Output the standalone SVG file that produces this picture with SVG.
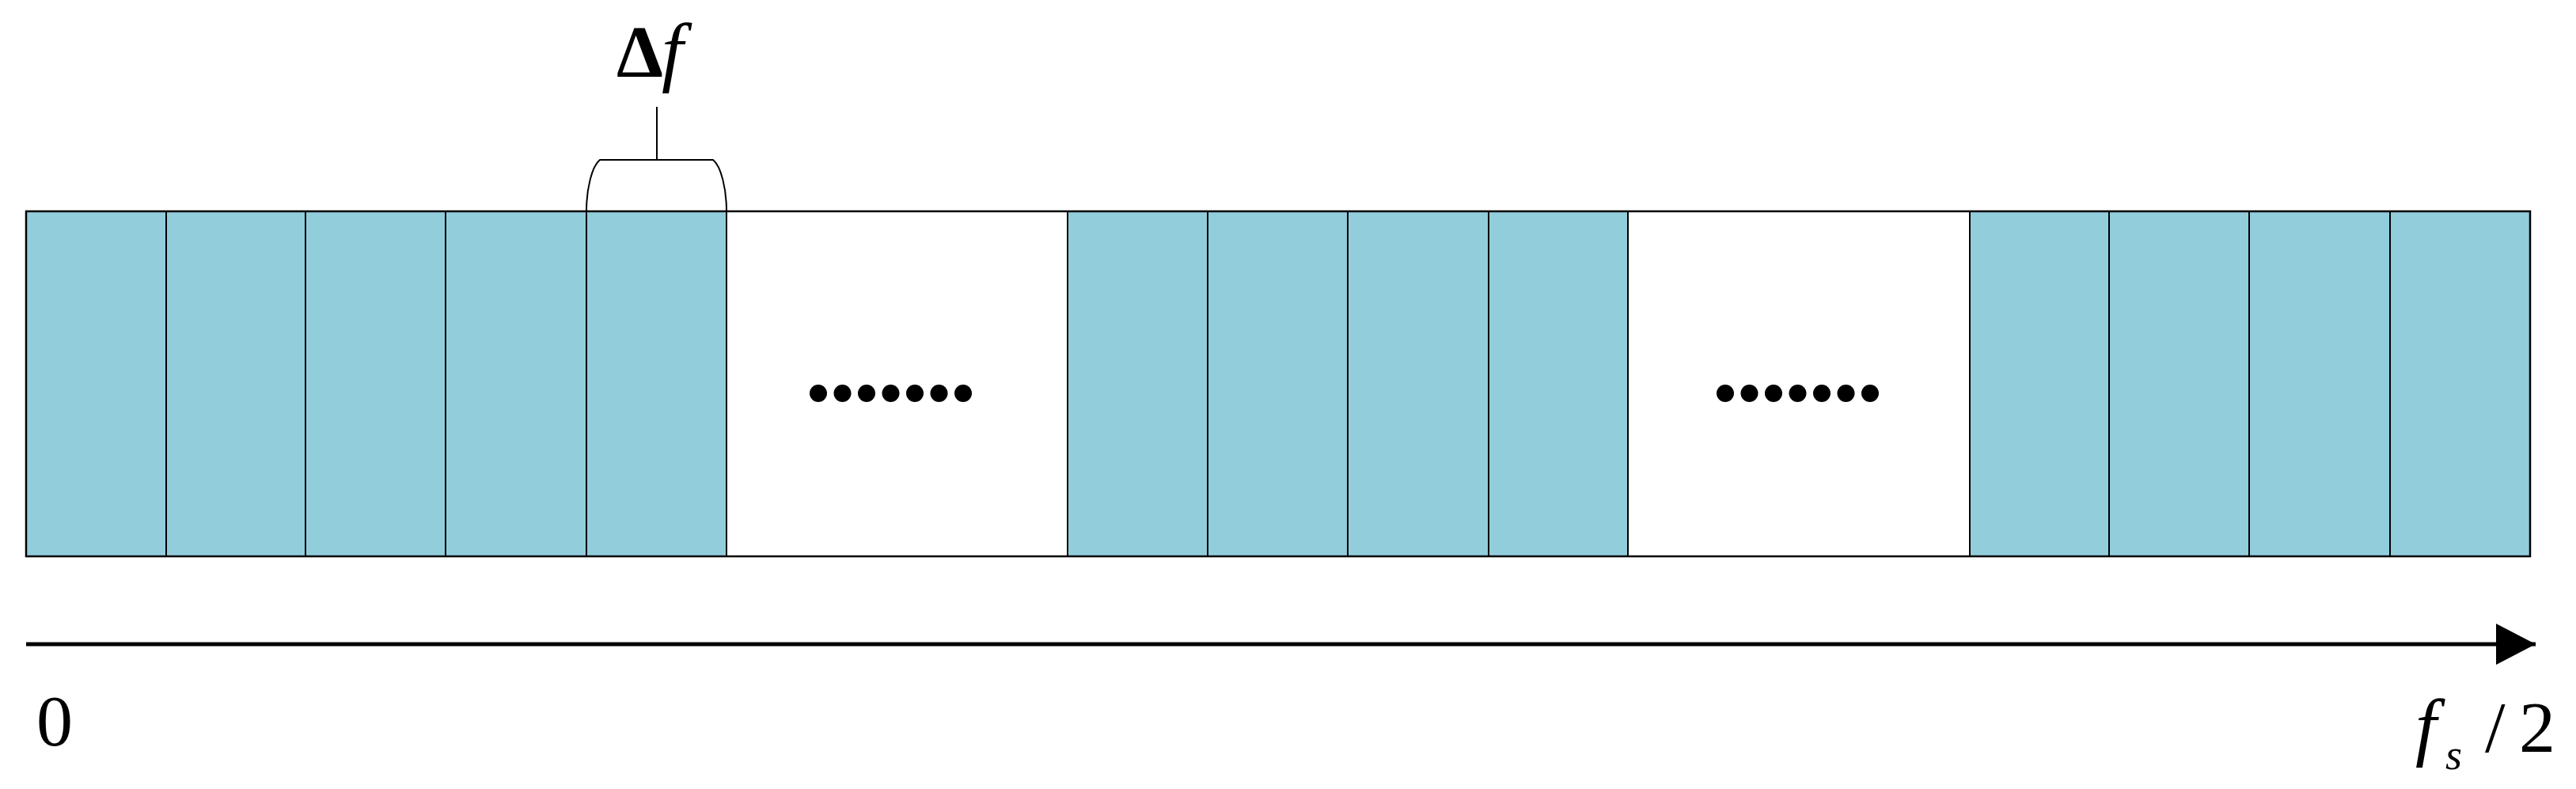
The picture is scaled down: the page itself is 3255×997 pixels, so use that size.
<svg xmlns="http://www.w3.org/2000/svg" width="3255" height="997" viewBox="0 0 3255 997">
<style>
.cell{fill:#92CDDC;stroke:#000;stroke-width:2}
.gap{fill:#fff;stroke:#000;stroke-width:2}
.dot{fill:#000}
.ln{fill:none;stroke:#000;stroke-width:2}
.lbl{font-family:"Liberation Serif","Times New Roman",serif;fill:#000}
</style>
<defs>
<marker id="ah" markerUnits="userSpaceOnUse" markerWidth="52" markerHeight="54" refX="50" refY="26" orient="auto" viewBox="0 0 52 54">
<path d="M0,0 L50,26 L0,52 Z" fill="#000"/>
</marker>
</defs>
<rect width="3255" height="997" fill="#fff"/>
<g id="band">
<g id="cell1"><rect class="cell" x="33" y="267" width="177" height="436"/></g>
<g id="cell2"><rect class="cell" x="210" y="267" width="176" height="436"/></g>
<g id="cell3"><rect class="cell" x="386" y="267" width="177" height="436"/></g>
<g id="cell4"><rect class="cell" x="563" y="267" width="178" height="436"/></g>
<g id="cell5"><rect class="cell" x="741" y="267" width="177" height="436"/></g>
<g id="gap1"><rect class="gap" x="918" y="267" width="431" height="436"/>
<circle class="dot" cx="1034" cy="497" r="11"/><circle class="dot" cx="1064.5" cy="497" r="11"/><circle class="dot" cx="1095" cy="497" r="11"/><circle class="dot" cx="1125.5" cy="497" r="11"/><circle class="dot" cx="1156" cy="497" r="11"/><circle class="dot" cx="1186.5" cy="497" r="11"/><circle class="dot" cx="1217" cy="497" r="11"/>
</g>
<g id="cell6"><rect class="cell" x="1349" y="267" width="177" height="436"/></g>
<g id="cell7"><rect class="cell" x="1526" y="267" width="177" height="436"/></g>
<g id="cell8"><rect class="cell" x="1703" y="267" width="178" height="436"/></g>
<g id="cell9"><rect class="cell" x="1881" y="267" width="176" height="436"/></g>
<g id="gap2"><rect class="gap" x="2057" y="267" width="432" height="436"/>
<circle class="dot" cx="2180" cy="497" r="11"/><circle class="dot" cx="2210.5" cy="497" r="11"/><circle class="dot" cx="2241" cy="497" r="11"/><circle class="dot" cx="2271.5" cy="497" r="11"/><circle class="dot" cx="2302" cy="497" r="11"/><circle class="dot" cx="2332.5" cy="497" r="11"/><circle class="dot" cx="2363" cy="497" r="11"/>
</g>
<g id="cell10"><rect class="cell" x="2489" y="267" width="176" height="436"/></g>
<g id="cell11"><rect class="cell" x="2665" y="267" width="177" height="436"/></g>
<g id="cell12"><rect class="cell" x="2842" y="267" width="178" height="436"/></g>
<g id="cell13"><rect class="cell" x="3020" y="267" width="177" height="436"/></g>
<rect x="33" y="267" width="3164" height="436" fill="none" stroke="#000" stroke-width="2.5"/>
</g>
<g id="brace">
<path class="ln" d="M741,267 C741,238 748,210 758,202 L901,202 C911,210 918,238 918,267"/>
<path class="ln" d="M830,202 L830,135"/>
<text class="lbl" x="779" y="97" font-size="94"><tspan font-weight="bold">Δ</tspan><tspan font-size="98" font-style="italic" dx="-2">f</tspan></text>
</g>
<g id="connectors">
<line x1="33" y1="814" x2="3204" y2="814" stroke="#000" stroke-width="5" marker-end="url(#ah)"/>
</g>
<g id="labels">
<text class="lbl" x="46" y="942" font-size="92">0</text>
<text class="lbl" x="3052" y="950" font-size="96" font-style="italic">f</text>
<text class="lbl" x="3090" y="972" font-size="54" font-style="italic">s</text>
<text class="lbl" x="3140" y="950" font-size="92">/</text>
<text class="lbl" x="3183" y="950" font-size="92">2</text>
</g>
</svg>
